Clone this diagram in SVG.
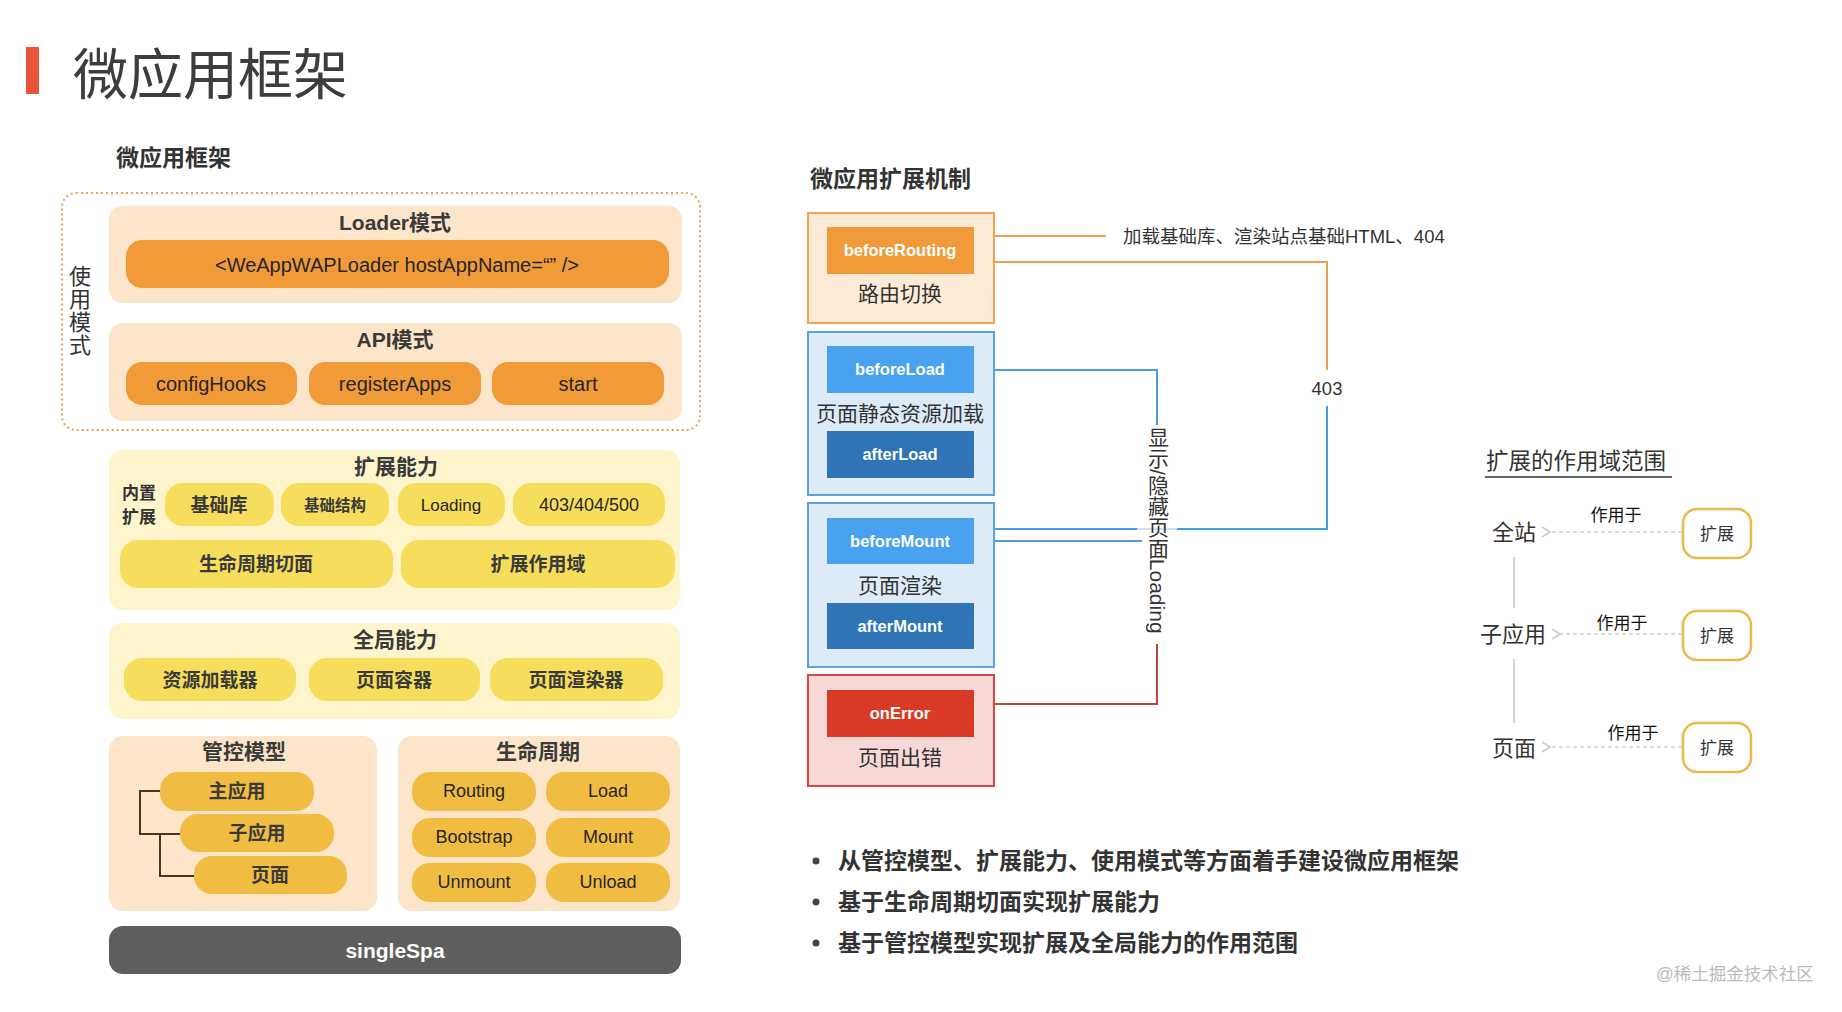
<svg xmlns="http://www.w3.org/2000/svg" width="1842" height="1012" viewBox="0 0 1842 1012">
<defs>
<style>
text{font-family:"Liberation Sans","Noto Sans CJK SC",sans-serif;dominant-baseline:central;fill:#333}
.c{text-anchor:middle}
.b{font-weight:bold}
.peach{fill:#FCE5C8}
.ylw{fill:#FEF5CC}
.org{fill:#F19A38}
.ypill{fill:#F7DD5C}
.gpill{fill:#F1BC42}
.hd{font-size:21px;font-weight:bold;fill:#3a3a3a}
.pt{font-size:19px;font-weight:bold;fill:#3a3a3a}
.lt{font-size:18px;font-weight:500;fill:#262626}
.wt{fill:#fff;font-size:16.5px;font-weight:bold}
.box-t{font-size:21px;fill:#333}
.ol{fill:none;stroke:#EE9E4E;stroke-width:2}
.bl{fill:none;stroke:#4A9BE0;stroke-width:2}
.rl{fill:none;stroke:#B5483C;stroke-width:2}
.dash{fill:none;stroke:#cfcfcf;stroke-width:1.5;stroke-dasharray:4 3}
.ext{fill:#fff;stroke:#EAB94C;stroke-width:2.5}
.bul{font-size:23px;font-weight:bold;fill:#333}
</style>
<marker id="chev" viewBox="0 0 14 14" refX="2" refY="7" markerWidth="14" markerHeight="14" markerUnits="userSpaceOnUse" orient="auto">
<path d="M10 2 L2 7 L10 12" fill="none" stroke="#cfcfcf" stroke-width="1.8"/>
</marker>
</defs>
<rect width="1842" height="1012" fill="#fff"/>

<!-- page title -->
<g id="title">
<rect x="26" y="47" width="13" height="47" fill="#E8553A"/>
<text x="73" y="75" style="font-size:55px;fill:#3d3d3d">微应用框架</text>
</g>

<!-- left diagram -->
<g id="left-heading"><text x="116" y="158" class="b" style="font-size:23px">微应用框架</text></g>

<g id="usage-mode">
<rect x="62" y="193" width="638" height="237" rx="14" fill="none" stroke="#E9A24B" stroke-width="2" stroke-dasharray="2 3"/>
<text x="80" y="276" class="c" style="font-size:22px">使</text>
<text x="80" y="299" class="c" style="font-size:22px">用</text>
<text x="80" y="322" class="c" style="font-size:22px">模</text>
<text x="80" y="345" class="c" style="font-size:22px">式</text>
</g>

<g id="loader-mode">
<rect x="109" y="206" width="573" height="97" rx="14" class="peach"/>
<text x="395" y="222" class="c hd">Loader模式</text>
<rect x="126" y="240" width="543" height="48" rx="16" class="org"/>
<text x="397" y="265" class="c" style="font-size:20px;font-weight:500;fill:#262626">&lt;WeAppWAPLoader hostAppName=“” /&gt;</text>
</g>

<g id="api-mode">
<rect x="109" y="323" width="573" height="98" rx="14" class="peach"/>
<text x="395" y="339" class="c hd">API模式</text>
<rect x="126" y="362" width="171" height="43" rx="16" class="org"/>
<text x="211" y="384" class="c" style="font-size:20px;font-weight:500;fill:#262626">configHooks</text>
<rect x="309" y="362" width="172" height="43" rx="16" class="org"/>
<text x="395" y="384" class="c" style="font-size:20px;font-weight:500;fill:#262626">registerApps</text>
<rect x="492" y="362" width="172" height="43" rx="16" class="org"/>
<text x="578" y="384" class="c" style="font-size:20px;font-weight:500;fill:#262626">start</text>
</g>

<g id="ext-ability">
<rect x="109" y="450" width="571" height="160" rx="14" class="ylw"/>
<text x="396" y="466" class="c hd">扩展能力</text>
<text x="139" y="493" class="c b" style="font-size:17px">内置</text>
<text x="139" y="517" class="c b" style="font-size:17px">扩展</text>
<rect x="165" y="483" width="109" height="43" rx="18" class="ypill"/>
<text x="219" y="505" class="c pt">基础库</text>
<rect x="281" y="483" width="108" height="43" rx="18" class="ypill"/>
<text x="335" y="505" class="c pt" style="font-size:15.5px">基础结构</text>
<rect x="398" y="483" width="107" height="43" rx="18" class="ypill"/>
<text x="451" y="505" class="c lt" style="font-size:17px">Loading</text>
<rect x="513" y="483" width="152" height="43" rx="18" class="ypill"/>
<text x="589" y="505" class="c lt">403/404/500</text>
<rect x="120" y="540" width="273" height="48" rx="18" class="ypill"/>
<text x="256" y="564" class="c pt">生命周期切面</text>
<rect x="401" y="540" width="274" height="48" rx="18" class="ypill"/>
<text x="538" y="564" class="c pt">扩展作用域</text>
</g>

<g id="global-ability">
<rect x="109" y="623" width="571" height="96" rx="14" class="ylw"/>
<text x="395" y="639" class="c hd">全局能力</text>
<rect x="124" y="658" width="172" height="43" rx="18" class="ypill"/>
<text x="210" y="680" class="c pt">资源加载器</text>
<rect x="309" y="658" width="171" height="43" rx="18" class="ypill"/>
<text x="394" y="680" class="c pt">页面容器</text>
<rect x="490" y="658" width="173" height="43" rx="18" class="ypill"/>
<text x="576" y="680" class="c pt">页面渲染器</text>
</g>

<g id="control-model">
<rect x="109" y="736" width="268" height="175" rx="14" class="peach"/>
<text x="244" y="751" class="c hd">管控模型</text>
<path d="M160 791 H140 V834 H180 M160 834 V876 H194" fill="none" stroke="#4a3522" stroke-width="2"/>
<rect x="160" y="772" width="154" height="39" rx="18" class="gpill"/>
<text x="237" y="791" class="c pt">主应用</text>
<rect x="180" y="814" width="154" height="38" rx="18" class="gpill"/>
<text x="257" y="833" class="c pt">子应用</text>
<rect x="194" y="856" width="153" height="38" rx="18" class="gpill"/>
<text x="270" y="875" class="c pt">页面</text>
</g>

<g id="lifecycle">
<rect x="398" y="736" width="282" height="175" rx="14" class="peach"/>
<text x="538" y="751" class="c hd">生命周期</text>
<rect x="412" y="772" width="124" height="39" rx="18" class="gpill"/>
<text x="474" y="791" class="c lt">Routing</text>
<rect x="546" y="772" width="124" height="39" rx="18" class="gpill"/>
<text x="608" y="791" class="c lt">Load</text>
<rect x="412" y="818" width="124" height="39" rx="18" class="gpill"/>
<text x="474" y="837" class="c lt">Bootstrap</text>
<rect x="546" y="818" width="124" height="39" rx="18" class="gpill"/>
<text x="608" y="837" class="c lt">Mount</text>
<rect x="412" y="863" width="124" height="39" rx="18" class="gpill"/>
<text x="474" y="882" class="c lt">Unmount</text>
<rect x="546" y="863" width="124" height="39" rx="18" class="gpill"/>
<text x="608" y="882" class="c lt">Unload</text>
</g>

<g id="singlespa">
<rect x="109" y="926" width="572" height="48" rx="14" fill="#5E5E5E"/>
<text x="395" y="950" class="c b" style="font-size:21px;fill:#fff">singleSpa</text>
</g>

<!-- extension mechanism -->
<g id="mech-heading"><text x="810" y="179" class="b" style="font-size:23px">微应用扩展机制</text></g>

<g id="connectors">
<path class="ol" d="M980 236 H1106"/>
<path class="ol" d="M980 262 H1327 V370"/>
<path class="bl" d="M1327 406 V529 H1177"/>
<path class="bl" d="M1137 529 H980"/>
<path d="M1137 529 H1177" fill="none" stroke="#4A9BE0" stroke-width="2" opacity="0.3"/>
<path class="bl" d="M980 370 H1157 V425"/>
<path class="bl" d="M980 541 H1142"/>
<path class="rl" d="M1157 644 V704 H980"/>
<path class="dash" d="M1682 532 H1550" marker-end="url(#chev)"/>
<path class="dash" d="M1682 634 H1560" marker-end="url(#chev)"/>
<path class="dash" d="M1682 747 H1550" marker-end="url(#chev)"/>
<path d="M1514 557 V608 M1514 659 V723" fill="none" stroke="#d4d4d4" stroke-width="2"/>
</g>

<g id="label-404"><text x="1123" y="236" style="font-size:18.5px">加载基础库、渲染站点基础HTML、404</text></g>
<g id="label-403"><text x="1327" y="388" class="c" style="font-size:18.5px">403</text></g>
<g id="label-loading"><text x="1157" y="427" writing-mode="tb" style="font-size:21px;fill:#333">显示/隐藏页面Loading</text></g>

<g id="routing">
<rect x="808" y="213" width="186" height="110" fill="#FDEBD8" stroke="#F0A355" stroke-width="2"/>
<rect x="827" y="227" width="147" height="47" fill="#F09A3A"/>
<text x="900" y="250" class="c wt">beforeRouting</text>
<text x="900" y="293" class="c box-t">路由切换</text>
</g>

<g id="load">
<rect x="808" y="332" width="186" height="163" fill="#DDEBF9" stroke="#5AA2E0" stroke-width="2"/>
<rect x="827" y="346" width="147" height="47" fill="#48A2EF"/>
<text x="900" y="369" class="c wt">beforeLoad</text>
<text x="900" y="413" class="c box-t">页面静态资源加载</text>
<rect x="827" y="431" width="147" height="47" fill="#2F74B5"/>
<text x="900" y="454" class="c wt">afterLoad</text>
</g>

<g id="mount">
<rect x="808" y="503" width="186" height="164" fill="#DDEBF9" stroke="#5AA2E0" stroke-width="2"/>
<rect x="827" y="518" width="147" height="46" fill="#48A2EF"/>
<text x="900" y="541" class="c wt">beforeMount</text>
<text x="900" y="585" class="c box-t">页面渲染</text>
<rect x="827" y="603" width="147" height="46" fill="#2F74B5"/>
<text x="900" y="626" class="c wt">afterMount</text>
</g>

<g id="error">
<rect x="808" y="675" width="186" height="111" fill="#F9D9D8" stroke="#D9483B" stroke-width="2"/>
<rect x="827" y="690" width="147" height="47" fill="#D93A26"/>
<text x="900" y="713" class="c wt">onError</text>
<text x="900" y="757" class="c box-t">页面出错</text>
</g>

<!-- scope -->
<g id="scope-heading">
<text x="1486" y="461" style="font-size:22.5px">扩展的作用域范围</text>
<line x1="1485" y1="477" x2="1672" y2="477" stroke="#333" stroke-width="1.5"/>
</g>
<g id="scope-site"><text x="1514" y="532" class="c" style="font-size:22px">全站</text></g>
<g id="scope-subapp"><text x="1513" y="634" class="c" style="font-size:22px">子应用</text></g>
<g id="scope-page"><text x="1514" y="748" class="c" style="font-size:22px">页面</text></g>
<g id="applies-labels">
<text x="1616" y="515" class="c" style="font-size:17px;fill:#111">作用于</text>
<text x="1622" y="623" class="c" style="font-size:17px;fill:#111">作用于</text>
<text x="1633" y="733" class="c" style="font-size:17px;fill:#111">作用于</text>
</g>
<g id="ext-1"><rect x="1683" y="509" width="68" height="49" rx="14" class="ext"/><text x="1717" y="534" class="c" style="font-size:17px">扩展</text></g>
<g id="ext-2"><rect x="1683" y="611" width="68" height="49" rx="14" class="ext"/><text x="1717" y="636" class="c" style="font-size:17px">扩展</text></g>
<g id="ext-3"><rect x="1683" y="723" width="68" height="49" rx="14" class="ext"/><text x="1717" y="748" class="c" style="font-size:17px">扩展</text></g>

<!-- bullets -->
<g id="bullets">
<circle cx="816" cy="861" r="3.5" fill="#444"/>
<text x="838" y="861" class="bul">从管控模型、扩展能力、使用模式等方面着手建设微应用框架</text>
<circle cx="816" cy="902" r="3.5" fill="#444"/>
<text x="838" y="902" class="bul">基于生命周期切面实现扩展能力</text>
<circle cx="816" cy="943" r="3.5" fill="#444"/>
<text x="838" y="943" class="bul">基于管控模型实现扩展及全局能力的作用范围</text>
</g>

<g id="watermark"><text x="1656" y="974" style="font-size:17.5px;fill:#bbb">@稀土掘金技术社区</text></g>
</svg>
